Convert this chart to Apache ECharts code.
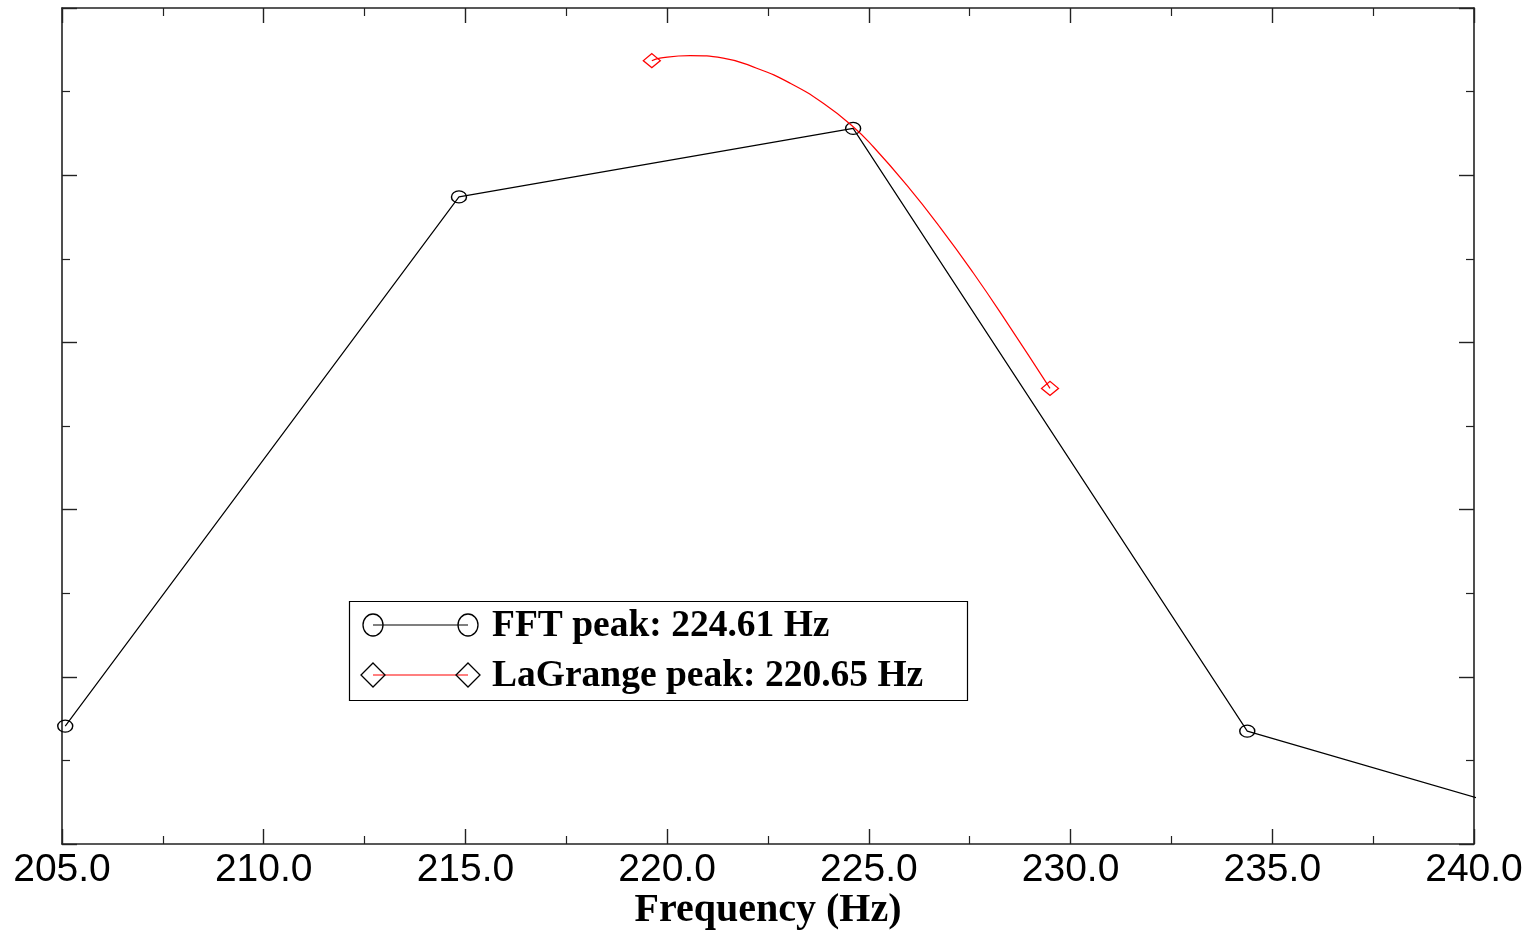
<!DOCTYPE html>
<html>
<head>
<meta charset="utf-8">
<script src="https://cdn.jsdelivr.net/npm/echarts@6/dist/echarts.min.js"></script>
<style>
html,body{margin:0;padding:0;background:#fff;}
#chart{width:1533px;height:931px;}
</style>
</head>
<body>
<div id="chart"></div>
<script>
// ---- data ----
const seriesNames = ['FFT peak: 224.61 Hz', 'LaGrange peak: 220.65 Hz'];
const fftFreq = [205.08, 214.84, 224.61, 234.38, 244.14];
const fftAmp  = [1.41, 7.74, 8.56, 1.35, -0.02];
const lagFreq = [219.62, 219.82, 220.57, 221.39, 222.22, 223.05, 223.87, 224.61, 225.11, 225.94, 226.76, 227.59, 228.42, 229.49];
const lagAmp  = [9.37, 9.40, 9.43, 9.40, 9.28, 9.10, 8.86, 8.58, 8.34, 7.88, 7.38, 6.83, 6.24, 5.45];
const xAxisName = 'Frequency (Hz)';

const ELLIPSE = 'path://M0,50 A50,50 0 1,1 100,50 A50,50 0 1,1 0,50 Z';

const fftData = fftFreq.map((f, i) => [f, fftAmp[i]]);
const lagData = lagFreq.map((f, i) => {
  const isEnd = (i === 0 || i === lagFreq.length - 1);
  return isEnd ? { value: [f, lagAmp[i]] } : { value: [f, lagAmp[i]], symbol: 'none' };
});

const axisColor = '#222';
const common = {
  type: 'value',
  axisLine: { show: true, onZero: false, lineStyle: { color: axisColor, width: 1.6 } },
  axisTick: { show: true, inside: true, length: 15, lineStyle: { color: axisColor, width: 1.4 } },
  minorTick: { show: true, splitNumber: 2, length: 8, lineStyle: { color: axisColor, width: 1.2 } },
  splitLine: { show: false },
  minorSplitLine: { show: false }
};

const chart = echarts.init(document.getElementById('chart'), null, { renderer: 'canvas' });
const option = {
  animation: false,
  backgroundColor: '#fff',
  grid: { left: 62, right: 59, top: 8, bottom: 87, containLabel: false, outerBoundsMode: 'none' },
  xAxis: [
    Object.assign({}, common, {
      position: 'bottom', min: 205, max: 240, interval: 5,
      axisLabel: {
        show: true, margin: 7, color: '#000', fontSize: 39,
        fontFamily: '"Liberation Sans", Arial, sans-serif',
        formatter: v => v.toFixed(1)
      },
      name: xAxisName, nameLocation: 'middle', nameGap: 47, nameMoveOverlap: false,
      nameTextStyle: { color: '#000', fontSize: 40, fontWeight: 'bold', fontFamily: '"Liberation Serif", "Times New Roman", serif' }
    }),
    Object.assign({}, common, {
      position: 'top', min: 205, max: 240, interval: 5,
      axisLabel: { show: false }
    })
  ],
  yAxis: [
    Object.assign({}, common, {
      position: 'left', min: 0, max: 10, interval: 2,
      axisLabel: { show: false }
    }),
    Object.assign({}, common, {
      position: 'right', min: 0, max: 10, interval: 2,
      axisLabel: { show: false }
    })
  ],
  series: [
    {
      name: seriesNames[0],
      type: 'line',
      xAxisIndex: 0, yAxisIndex: 0,
      data: fftData,
      clip: true,
      symbol: ELLIPSE,
      symbolSize: [15, 12],
      showSymbol: true,
      lineStyle: { color: '#000', width: 1.2 },
      itemStyle: { color: 'rgba(0,0,0,0)', borderColor: '#000', borderWidth: 1.3 },
      emphasis: { disabled: true },
      z: 3
    },
    {
      name: seriesNames[1],
      type: 'line',
      xAxisIndex: 0, yAxisIndex: 0,
      data: lagData,
      clip: true,
      smooth: 0.5,
      symbol: 'diamond',
      symbolSize: [17, 14],
      showSymbol: true,
      lineStyle: { color: '#ff0000', width: 1.2 },
      itemStyle: { color: 'rgba(0,0,0,0)', borderColor: '#ff0000', borderWidth: 1.3 },
      emphasis: { disabled: true },
      z: 4
    }
  ],
  graphic: [
    { type: 'rect', z: 100, shape: { x: 349.5, y: 601.5, width: 618, height: 99 },
      style: { fill: '#fff', stroke: '#000', lineWidth: 1.2 } },
    { type: 'line', z: 101, shape: { x1: 373, y1: 625, x2: 468, y2: 625 }, style: { stroke: '#000', lineWidth: 1.2 } },
    { type: 'ellipse', z: 102, shape: { cx: 373, cy: 625, rx: 10, ry: 11 }, style: { fill: null, stroke: '#000', lineWidth: 1.3 } },
    { type: 'ellipse', z: 102, shape: { cx: 468, cy: 625, rx: 10, ry: 11 }, style: { fill: null, stroke: '#000', lineWidth: 1.3 } },
    { type: 'text', z: 102, style: { x: 492, y: 626, text: seriesNames[0], fill: '#000', verticalAlign: 'middle',
      font: 'bold 37.5px "Liberation Serif", "Times New Roman", serif' } },
    { type: 'line', z: 101, shape: { x1: 373, y1: 675, x2: 468, y2: 675 }, style: { stroke: '#ff0000', lineWidth: 1.2 } },
    { type: 'polygon', z: 102, shape: { points: [[373, 663], [385, 675], [373, 687], [361, 675]] }, style: { fill: null, stroke: '#000', lineWidth: 1.3 } },
    { type: 'polygon', z: 102, shape: { points: [[468, 663], [480, 675], [468, 687], [456, 675]] }, style: { fill: null, stroke: '#000', lineWidth: 1.3 } },
    { type: 'text', z: 102, style: { x: 492, y: 676, text: seriesNames[1], fill: '#000', verticalAlign: 'middle',
      font: 'bold 37.5px "Liberation Serif", "Times New Roman", serif' } }
  ]
};
chart.setOption(option);
</script>
</body>
</html>
